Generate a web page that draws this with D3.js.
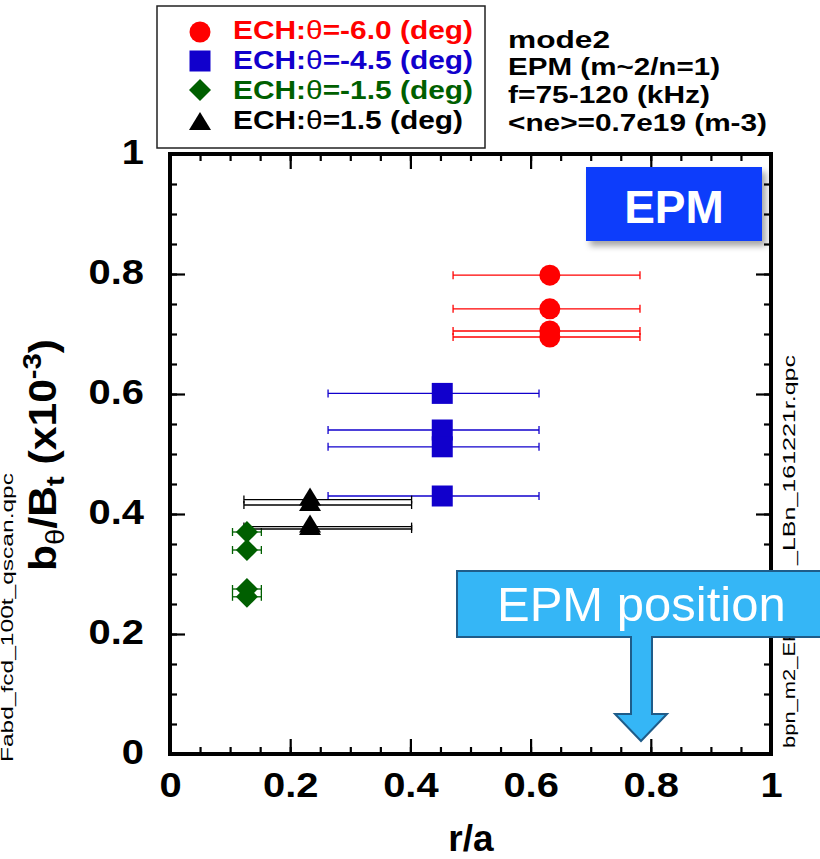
<!DOCTYPE html>
<html><head><meta charset="utf-8">
<script src="https://cdn.jsdelivr.net/npm/d3@7"></script>
<style>
body{margin:0;background:#fff}
svg{display:block}
text{font-family:"Liberation Sans",Arial,Helvetica,sans-serif}
</style>
</head><body>
<svg id="c" width="820" height="859"></svg>
<script>
// ---------- data ----------
const legendPrefix = "ECH:";
const legendAngles = ["-6.0", "-4.5", "-1.5", "1.5"];
const seriesColors = ["#ff0000", "#1100cc", "#005f00", "#000000"];

const red_r   = [0.632, 0.632, 0.632, 0.632];
const red_b   = [0.798, 0.742, 0.705, 0.695];
const red_lo  = [0.471, 0.471, 0.471, 0.471];
const red_hi  = [0.782, 0.782, 0.782, 0.782];

const blue_r  = [0.453, 0.453, 0.453, 0.453];
const blue_b  = [0.601, 0.540, 0.512, 0.430];
const blue_lo = [0.263, 0.263, 0.263, 0.263];
const blue_hi = [0.614, 0.614, 0.614, 0.614];

const green_r  = [0.128, 0.128, 0.128, 0.128];
const green_b  = [0.370, 0.340, 0.275, 0.262];
const green_lo = [0.104, 0.104, 0.104, 0.104];
const green_hi = [0.152, 0.152, 0.152, 0.152];

const black_r  = [0.233, 0.233, 0.233, 0.233];
const black_b  = [0.424, 0.415, 0.379, 0.375];
const black_lo = [0.123, 0.123, 0.123, 0.123];
const black_hi = [0.402, 0.402, 0.402, 0.402];

const xMajorTicks = [0, 0.2, 0.4, 0.6, 0.8, 1];
const yMajorTicks = [0, 0.2, 0.4, 0.6, 0.8, 1];
const tickLabels  = ["0", "0.2", "0.4", "0.6", "0.8", "1"];

const infoLines = ["mode2", "EPM (m~2/n=1)", "f=75-120 (kHz)", "<ne>=0.7e19 (m-3)"];

// ---------- layout ----------
const svg = d3.select("#c");
const X0 = 170, X1 = 771, Y0 = 754, Y1 = 154;
const x = d3.scaleLinear().domain([0, 1]).range([X0, X1]);
const y = d3.scaleLinear().domain([0, 1]).range([Y0, Y1]);
const minorTicks = d3.range(0, 1.0001, 0.05).map(v => +v.toFixed(2));
const fmt = v => tickLabels[xMajorTicks.indexOf(v)];

function styleAxis(g) {
  g.select(".domain").remove();
  g.selectAll("line").attr("stroke", "#000").attr("stroke-width", 2.2);
}
// minor ticks (inward) on four sides
svg.append("g").attr("transform", `translate(0,${Y0})`)
  .call(d3.axisBottom(x).tickValues(minorTicks).tickSize(-7).tickFormat("")).call(styleAxis);
svg.append("g").attr("transform", `translate(0,${Y1})`)
  .call(d3.axisTop(x).tickValues(minorTicks).tickSize(-7).tickFormat("")).call(styleAxis);
svg.append("g").attr("transform", `translate(${X0},0)`)
  .call(d3.axisLeft(y).tickValues(minorTicks).tickSize(-7).tickFormat("")).call(styleAxis);
svg.append("g").attr("transform", `translate(${X1},0)`)
  .call(d3.axisRight(y).tickValues(minorTicks).tickSize(-7).tickFormat("")).call(styleAxis);
// major ticks with labels
const xb = svg.append("g").attr("transform", `translate(0,${Y0})`)
  .call(d3.axisBottom(x).tickValues(xMajorTicks).tickSize(-15).tickPadding(18).tickFormat(fmt)).call(styleAxis);
svg.append("g").attr("transform", `translate(0,${Y1})`)
  .call(d3.axisTop(x).tickValues(xMajorTicks).tickSize(-15).tickFormat("")).call(styleAxis);
const yl = svg.append("g").attr("transform", `translate(${X0},0)`)
  .call(d3.axisLeft(y).tickValues(yMajorTicks).tickSize(-15).tickPadding(26).tickFormat(fmt)).call(styleAxis);
svg.append("g").attr("transform", `translate(${X1},0)`)
  .call(d3.axisRight(y).tickValues(yMajorTicks).tickSize(-15).tickFormat("")).call(styleAxis);
[xb, yl].forEach(g => g.selectAll("text")
  .attr("fill", "#000").style("font-size", "35px").style("font-weight", "bold")
  .style("font-family", '"Liberation Sans",Arial,Helvetica,sans-serif')
  .each(function () {
    const w = this.getComputedTextLength();
    d3.select(this).attr("textLength", w * 1.14).attr("lengthAdjust", "spacingAndGlyphs");
  }));
yl.selectAll("text").attr("dy", "0.26em");

// frame
svg.append("rect").attr("x", X0).attr("y", Y1).attr("width", X1 - X0).attr("height", Y0 - Y1)
  .attr("fill", "none").attr("stroke", "#000").attr("stroke-width", 4);

// ---------- series ----------
const circlePath = r => `M${-r},0a${r},${r} 0 1,0 ${2*r},0a${r},${r} 0 1,0 ${-2*r},0Z`;
const squarePath = s => `M${-s/2},${-s/2}h${s}v${s}h${-s}Z`;
const diamondPath = h => `M0,${-h}L${h},0L0,${h}L${-h},0Z`;
const trianglePath = (w, ht) => `M0,${-ht*2/3}L${w/2},${ht/3}L${-w/2},${ht/3}Z`;

const series = [
  {r: red_r, b: red_b, lo: red_lo, hi: red_hi, color: seriesColors[0], shape: circlePath(10.5)},
  {r: blue_r, b: blue_b, lo: blue_lo, hi: blue_hi, color: seriesColors[1], shape: squarePath(21)},
  {r: green_r, b: green_b, lo: green_lo, hi: green_hi, color: seriesColors[2], shape: diamondPath(11)},
  {r: black_r, b: black_b, lo: black_lo, hi: black_hi, color: seriesColors[3], shape: trianglePath(22, 18)}
];
const errG = svg.append("g");
const markG = svg.append("g");
series.forEach(s => {
  const pts = s.r.map((r, i) => ({r, b: s.b[i], lo: s.lo[i], hi: s.hi[i]}));
  const g = errG.append("g").attr("stroke", s.color).attr("stroke-width", 1.3).attr("fill", "none");
  g.selectAll(".eb").data(pts).join("line")
    .attr("x1", d => x(d.lo)).attr("x2", d => x(d.hi)).attr("y1", d => y(d.b)).attr("y2", d => y(d.b));
  g.selectAll(".cl").data(pts).join("line")
    .attr("x1", d => x(d.lo)).attr("x2", d => x(d.lo)).attr("y1", d => y(d.b) - 4).attr("y2", d => y(d.b) + 4);
  g.selectAll(".ch").data(pts).join("line")
    .attr("x1", d => x(d.hi)).attr("x2", d => x(d.hi)).attr("y1", d => y(d.b) - 4).attr("y2", d => y(d.b) + 4);
  markG.append("g").selectAll("path").data(pts).join("path")
    .attr("d", s.shape).attr("fill", s.color)
    .attr("transform", d => `translate(${x(d.r)},${y(d.b)})`);
});

// ---------- legend ----------
svg.append("rect").attr("x", 157).attr("y", 6).attr("width", 328).attr("height", 142)
  .attr("fill", "#fff").attr("stroke", "#222").attr("stroke-width", 1.5);
const legRowY = [39, 69, 99, 129];
const legSymY = [32, 61, 90, 124];
const legWidths = [240, 240, 240, 230];
legendAngles.forEach((a, i) => {
  svg.append("path").attr("d", series[i].shape).attr("fill", seriesColors[i])
    .attr("transform", `translate(200,${legSymY[i]})`);
  const t = svg.append("text").attr("x", 233).attr("y", legRowY[i]).attr("fill", seriesColors[i])
    .style("font-size", "25px").style("font-weight", "bold")
    .attr("textLength", legWidths[i]).attr("lengthAdjust", "spacingAndGlyphs");
  t.append("tspan").text(legendPrefix);
  t.append("tspan").style("font-weight", "normal").text("θ");
  t.append("tspan").text("=" + a + " (deg)");
});

// ---------- info text ----------
const infoY = [48, 75, 103, 131];
const infoW = [102, 212, 202, 259];
infoLines.forEach((s, i) => {
  svg.append("text").attr("x", 508).attr("y", infoY[i]).text(s)
    .style("font-size", "23.5px").style("font-weight", "bold").attr("fill", "#000")
    .attr("textLength", infoW[i]).attr("lengthAdjust", "spacingAndGlyphs");
});

// ---------- axis titles ----------
svg.append("text").attr("x", 471).attr("y", 851).attr("text-anchor", "middle")
  .style("font-size", "37px").style("font-weight", "bold").text("r/a");
const yt = svg.append("text").attr("transform", "translate(56,455) rotate(-90)")
  .attr("text-anchor", "middle").style("font-size", "38px").style("font-weight", "bold")
  .attr("textLength", 232).attr("lengthAdjust", "spacingAndGlyphs");
yt.append("tspan").text("b");
yt.append("tspan").attr("dy", 8).style("font-size", "26px").style("font-weight", "normal").text("θ");
yt.append("tspan").attr("dy", -8).text("/B");
yt.append("tspan").attr("dy", 8).style("font-size", "26px").text("t");
yt.append("tspan").attr("dy", -8).text(" (x10");
yt.append("tspan").attr("dy", -15).style("font-size", "26px").text("-3");
yt.append("tspan").attr("dy", 15).text(")");

// side file names
svg.append("text").attr("transform", "translate(13,762) rotate(-90)")
  .style("font-size", "16px").attr("textLength", 289).attr("lengthAdjust", "spacingAndGlyphs")
  .text("Fabd_fcd_100t_qscan.qpc");
svg.append("text").attr("transform", "translate(795,748) rotate(-90)")
  .style("font-size", "16px").attr("textLength", 139).attr("lengthAdjust", "spacingAndGlyphs")
  .text("bpn_m2_EPM");
svg.append("text").attr("transform", "translate(795,565) rotate(-90)")
  .style("font-size", "16px").attr("textLength", 210).attr("lengthAdjust", "spacingAndGlyphs")
  .text("_LBn_161221r.qpc");

// ---------- annotations ----------
const defs = svg.append("defs");
const f = defs.append("filter").attr("id", "sh").attr("x", "-20%").attr("y", "-20%").attr("width", "150%").attr("height", "150%");
f.append("feDropShadow").attr("dx", 4).attr("dy", 5).attr("stdDeviation", 3).attr("flood-color", "#000").attr("flood-opacity", 0.35);
svg.append("rect").attr("x", 586).attr("y", 167).attr("width", 176).attr("height", 74)
  .attr("fill", "#0d3cfb").attr("filter", "url(#sh)");
svg.append("text").attr("x", 674).attr("y", 223).attr("text-anchor", "middle")
  .style("font-size", "46px").style("font-weight", "bold").attr("fill", "#fff").text("EPM");

svg.append("path")
  .attr("d", "M457,571H830V637H652V714H667L641,741L615,714H631V637H457Z")
  .attr("fill", "#35b6f6").attr("stroke", "#1f5c89").attr("stroke-width", 2);
svg.append("text").attr("x", 497).attr("y", 621)
  .style("font-size", "49px").attr("fill", "#fff").text("EPM position");
</script>
</body></html>
